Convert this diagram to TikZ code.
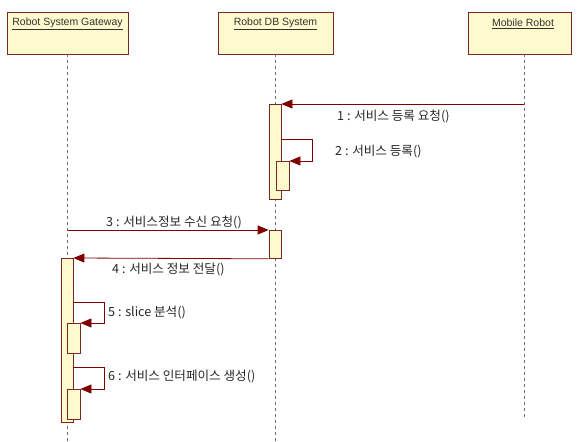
\documentclass[tikz,border=0pt]{standalone}
\usepackage{fontspec}
\setmainfont{Liberation Sans}
\newfontfamily\kr{Noto Sans CJK KR}
\usetikzlibrary{arrows.meta}
\definecolor{boxfill}{RGB}{255,250,205}
\definecolor{boxline}{RGB}{120,40,30}
\definecolor{msgline}{RGB}{128,0,0}
\definecolor{lifegray}{RGB}{110,110,110}
\definecolor{hdrtext}{RGB}{50,50,50}
\tikzset{
  hdrbox/.style={draw=boxline, fill=boxfill, line width=0.9pt, minimum height=42pt, inner sep=0pt},
  hdrtxt/.style={text=hdrtext, font=\fontsize{10.5}{12}\selectfont, anchor=center, inner sep=0pt},
  lifeline/.style={draw=lifegray, line width=0.8pt, dash pattern=on 3pt off 3pt},
  actbar/.style={draw=boxline, fill=boxfill, line width=0.8pt, minimum width=12pt, inner sep=0pt, anchor=north},
  msg/.style={draw=msgline, line width=0.8pt, -{Triangle[length=11pt,width=9pt]}},
  msglbl/.style={font=\kr\fontsize{12.6}{14}\selectfont, text=black!85, anchor=west, inner sep=0pt},
}
\begin{document}
\begin{tikzpicture}[x=1pt,y=-1pt]
\useasboundingbox (0,0) rectangle (577,441);
% header boxes
\node[hdrbox, minimum width=121pt] (gw) at (67.5,33) {};
\node[hdrbox, minimum width=115pt] (db) at (275.5,33) {};
\node[hdrbox, minimum width=103pt] (mr) at (519.5,33) {};
\node[hdrtxt] (gwt) at (67.5,24) {\underline{Robot System Gateway}};
\node[hdrtxt] (dbt) at (275.5,24) {\underline{Robot DB System}};
\node[hdrtxt] (mrt) at (523,24) {\underline{Mobile Robot}};
% lifeline ends
\coordinate (gwend) at (67.5,441);
\coordinate (dbend) at (275.5,441);
\coordinate (mrend) at (524,418);
\draw[lifeline] (gw.south) -- (gwend);
\draw[lifeline] (db.south) -- (dbend);
\draw[lifeline] (mr.south -| mrend) -- (mrend);
% activation bars
\node[actbar, minimum height=95pt] (db1) at (275,104) {};
\node[actbar, minimum height=29pt, minimum width=13pt] (db1s) at (282.5,161) {};
\node[actbar, minimum height=28pt] (db2) at (275,230) {};
\node[actbar, minimum height=164pt] (gwb) at (67,258) {};
\node[actbar, minimum height=30pt, minimum width=13pt] (gws1) at (73.5,323) {};
\node[actbar, minimum height=30pt, minimum width=13pt] (gws2) at (73.5,389) {};
% message endpoints
\coordinate (m1) at (524,104);
\coordinate (g3) at (67.5,230);
% messages
\draw[msg] (m1) -- (db1.north east);
\draw[msg] (db1.east |- 0,139) -- ++(31,0) |- (db1s.north east);
\draw[msg] (g3) -- (db2.north west);
\draw[msg] (db2.south west) -- (gwb.north east);
\draw[msg] (gwb.east |- 0,302) -- ++(31,0) |- (gws1.north east);
\draw[msg] (gwb.east |- 0,367) -- ++(31,0) |- (gws2.north east);
% labels
\node[msglbl] (l1) at (337,116) {1 : 서비스 등록 요청()};
\node[msglbl] (l2) at (335,152) {2 : 서비스 등록()};
\node[msglbl] (l3) at (106,222) {3 : 서비스정보 수신 요청()};
\node[msglbl] (l4) at (112,270) {4 : 서비스 정보 전달()};
\node[msglbl] (l5) at (108,313) {5 : slice 분석()};
\node[msglbl] (l6) at (108,377) {6 : 서비스 인터페이스 생성()};
\end{tikzpicture}
\end{document}
